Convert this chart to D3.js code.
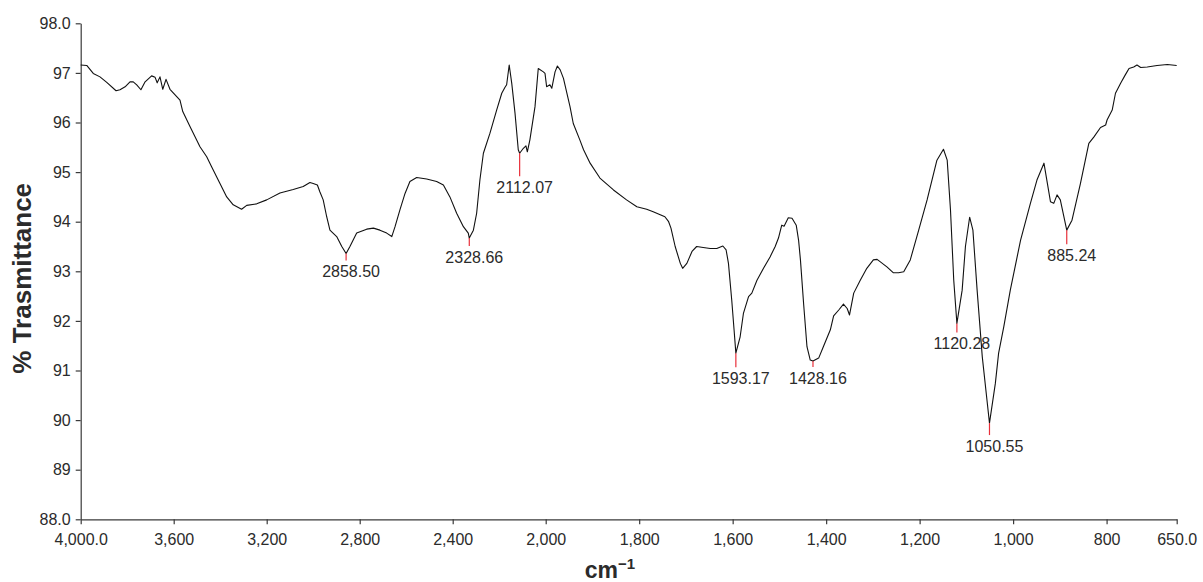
<!DOCTYPE html>
<html>
<head>
<meta charset="utf-8">
<script src="https://cdn.jsdelivr.net/npm/d3@7"></script>
<style>
  html, body { margin: 0; padding: 0; background: #fff; }
  svg { display: block; font-family: "Liberation Sans", Arial, sans-serif; }
</style>
</head>
<body>
<svg id="chart" width="1203" height="582"></svg>
<script>
// ---- data ----
const wavenumbers = [4000,3974,3946,3917,3888,3848,3831,3809,3788,3774,3759,3741,3723,3695,3680,3671,3659,3647,3633,3616,3587,3573,3561,3530,3487,3458,3437,3401,3372,3344,3308,3286,3243,3200,3143,3086,3043,3014,3000,2982,2971,2957,2942,2928,2899,2877,2858.5,2842,2813,2770,2741,2713,2684,2662,2648,2627,2605,2584,2555,2512,2469,2440,2412,2383,2354,2333,2328.66,2311,2297,2283,2268,2240,2211,2189,2175,2168,2157,2146,2132,2118,2112.07,2096,2085,2079,2068,2046,2032,2010,2003,1998,1991,1987,1980,1975,1969,1962,1948,1941,1927,1919,1905,1884,1855,1827,1805,1784,1770,1755,1745,1737,1732,1723,1712,1707,1698,1687,1677,1663,1648,1634,1621,1614,1609,1602,1597,1593.17,1584,1577,1566,1559,1548,1534,1520,1509,1502,1495,1490,1481,1473,1464,1459,1455,1448,1441,1434,1428.16,1416,1406,1391,1384,1373,1363,1355,1350,1341,1327,1313,1299,1291,1284,1270,1256,1245,1234,1220,1202,1184,1163,1149,1141,1134,1127,1120.28,1109,1102,1093,1086,1077,1066,1056,1050.55,1038,1031,1020,1006,984,963,949,934,920,913,906,899,885.24,874,856,838,827,813,802,799,788,781,770,760,752,742,735,727,713,692,670,650];
const transmittance = [97.16,97.15,96.99,96.92,96.81,96.64,96.66,96.72,96.82,96.82,96.76,96.66,96.82,96.94,96.91,96.80,96.92,96.67,96.87,96.67,96.52,96.45,96.22,95.92,95.51,95.31,95.11,94.77,94.50,94.34,94.25,94.33,94.36,94.44,94.58,94.65,94.71,94.79,94.77,94.74,94.60,94.44,94.10,93.83,93.70,93.50,93.36,93.50,93.77,93.85,93.87,93.83,93.77,93.70,93.90,94.24,94.57,94.81,94.89,94.86,94.81,94.74,94.50,94.17,93.90,93.77,93.67,93.83,94.17,94.84,95.38,95.78,96.25,96.59,96.71,96.76,97.16,96.79,96.19,95.45,95.38,95.48,95.53,95.41,95.65,96.32,97.09,97.02,96.99,96.72,96.76,96.69,97.02,97.14,97.06,96.89,96.32,95.98,95.65,95.45,95.18,94.88,94.64,94.44,94.30,94.25,94.20,94.14,94.10,94.00,93.87,93.50,93.16,93.06,93.16,93.40,93.50,93.48,93.46,93.46,93.51,93.43,93.16,92.42,91.82,91.35,91.68,92.15,92.49,92.56,92.82,93.06,93.29,93.50,93.67,93.93,93.91,94.08,94.07,93.93,93.63,93.23,92.32,91.48,91.21,91.19,91.25,91.48,91.82,92.10,92.22,92.34,92.25,92.12,92.56,92.82,93.06,93.23,93.24,93.19,93.09,92.97,92.97,92.99,93.23,93.83,94.44,95.24,95.46,95.24,94.24,92.82,91.95,92.62,93.50,94.09,93.83,92.62,91.28,90.41,89.94,90.74,91.35,91.88,92.62,93.63,94.37,94.84,95.18,94.40,94.37,94.54,94.44,93.83,94.03,94.77,95.58,95.71,95.90,95.95,96.05,96.25,96.59,96.79,96.96,97.09,97.12,97.16,97.11,97.12,97.15,97.17,97.15];

const peakWavenumbers = [2858.50, 2328.66, 2112.07, 1593.17, 1428.16, 1120.28, 1050.55, 885.24];
const peakTransmittance = [93.36, 93.67, 95.38, 91.35, 91.19, 91.95, 89.94, 93.83];
const peakLabels = ["2858.50", "2328.66", "2112.07", "1593.17", "1428.16", "1120.28", "1050.55", "885.24"];

const xTickValues = [4000, 3600, 3200, 2800, 2400, 2000, 1800, 1600, 1400, 1200, 1000, 800, 650];
const xTickLabels = ["4,000.0", "3,600", "3,200", "2,800", "2,400", "2,000", "1,800", "1,600", "1,400", "1,200", "1,000", "800", "650.0"];
const yTickValues = [88, 89, 90, 91, 92, 93, 94, 95, 96, 97, 98];
const yTickLabels = ["88.0", "89", "90", "91", "92", "93", "94", "95", "96", "97", "98.0"];

// ---- styling / layout (not data) ----
const markerLengths = [7, 8, 23, 14, 6, 9, 12, 14];
const plotLeft = 80.7, plotBreak = 545.7, plotRight = 1176.7;
const plotTop = 23.3, plotBottom = 519.3;

const svg = d3.select("#chart");

const x = d3.scaleLinear()
  .domain([4000, 2000, 650])
  .range([plotLeft, plotBreak, plotRight]);
const y = d3.scaleLinear()
  .domain([88, 98])
  .range([plotBottom, plotTop]);

const axisColor = "#3a3a3a";
const textColor = "#2b2b2b";

// x axis
const xAxis = d3.axisBottom(x)
  .tickValues(xTickValues)
  .tickFormat((d, i) => xTickLabels[i])
  .tickSizeInner(5).tickSizeOuter(0).tickPadding(9);
const gx = svg.append("g").attr("transform", `translate(0,${plotBottom})`).call(xAxis);
gx.select(".domain").attr("stroke", axisColor).attr("stroke-width", 1.2);
gx.selectAll(".tick line").attr("stroke", axisColor).attr("stroke-width", 1.2);
gx.selectAll(".tick text").attr("fill", textColor).attr("font-size", 16)
  .attr("font-family", "'Liberation Sans', Arial, sans-serif");

// y axis
const yAxis = d3.axisLeft(y)
  .tickValues(yTickValues)
  .tickFormat((d, i) => yTickLabels[i])
  .tickSizeInner(5).tickSizeOuter(0).tickPadding(5);
const gy = svg.append("g").attr("transform", `translate(${plotLeft},0)`).call(yAxis);
gy.select(".domain").attr("stroke", axisColor).attr("stroke-width", 1.2);
gy.selectAll(".tick line").attr("stroke", axisColor).attr("stroke-width", 1.2);
gy.selectAll(".tick text").attr("fill", textColor).attr("font-size", 16)
  .attr("font-family", "'Liberation Sans', Arial, sans-serif");

// spectrum line
const series = wavenumbers.map((w, i) => ({ w, t: transmittance[i] }));
const line = d3.line().x(d => x(d.w)).y(d => y(d.t));
svg.append("path")
  .datum(series)
  .attr("fill", "none")
  .attr("stroke", "#111")
  .attr("stroke-width", 1.1)
  .attr("stroke-linejoin", "round")
  .attr("d", line);

// peak markers
const peaks = peakWavenumbers.map((w, i) => ({ w, t: peakTransmittance[i], label: peakLabels[i], len: markerLengths[i] }));
const pg = svg.append("g");
pg.selectAll("line.peak")
  .data(peaks).enter().append("line")
  .attr("class", "peak")
  .attr("x1", d => x(d.w)).attr("x2", d => x(d.w))
  .attr("y1", d => y(d.t)).attr("y2", d => y(d.t) + d.len)
  .attr("stroke", "#e8303a").attr("stroke-width", 1.2);
pg.selectAll("text.peak")
  .data(peaks).enter().append("text")
  .attr("class", "peak")
  .attr("x", d => x(d.w) + 5)
  .attr("y", d => y(d.t) + d.len + 17)
  .attr("text-anchor", "middle")
  .attr("font-size", 16)
  .attr("fill", textColor)
  .text(d => d.label);

// axis titles
svg.append("text")
  .attr("transform", `translate(31,${(plotTop + plotBottom) / 2 + 7}) rotate(-90)`)
  .attr("text-anchor", "middle")
  .attr("font-size", 26)
  .attr("font-weight", "bold")
  .attr("fill", textColor)
  .text("% Trasmittance");

const xt = svg.append("text")
  .attr("x", 610).attr("y", 578)
  .attr("text-anchor", "middle")
  .attr("font-size", 23)
  .attr("font-weight", "bold")
  .attr("fill", textColor);
xt.append("tspan").text("cm");
xt.append("tspan").attr("font-size", 15).attr("dy", -9).text("\u22121");
</script>
</body>
</html>
